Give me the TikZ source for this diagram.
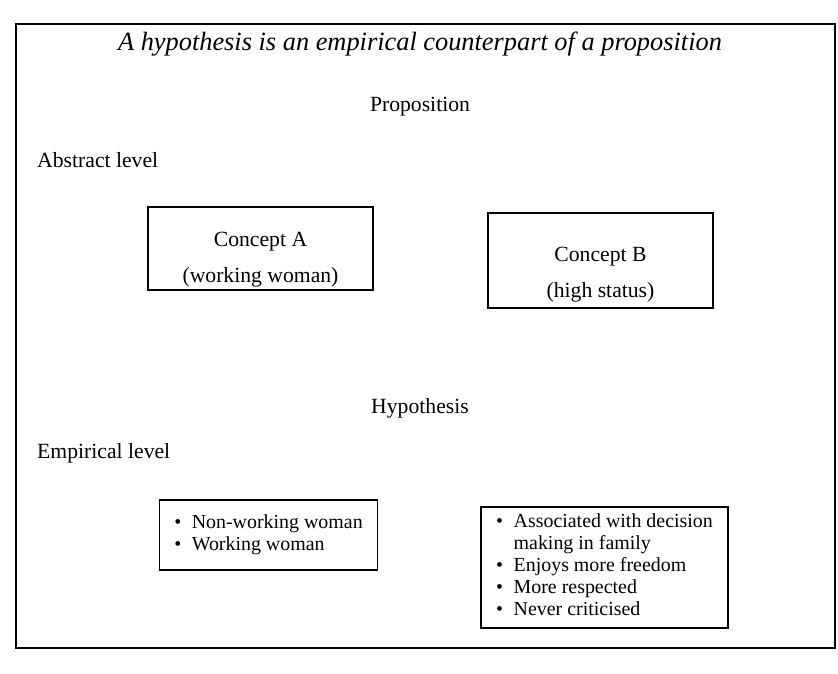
\documentclass[tikz,border=0pt]{standalone}
\usepackage{fontspec}
\setmainfont{Liberation Serif}
\usetikzlibrary{positioning}

\tikzset{
  txt/.style={inner sep=0pt, font=\fontsize{18.5}{21}\selectfont},
  conceptbox/.style={draw, line width=1.3pt, inner sep=0pt},
  listbox/.style={draw, line width=1.3pt, inner xsep=0.45cm, inner ysep=0pt,
    font=\fontsize{17}{18.8}\selectfont},
}
\newcommand{\bul}{\textbullet}

\begin{document}
\begin{tikzpicture}[x=0.03cm,y=-0.03cm]
\useasboundingbox (0,0) rectangle (838,674);

\draw[line width=1.5pt] (16,24) rectangle (835,648);

\node[txt, font=\fontsize{22.5}{26}\selectfont\itshape] (title) at (420,44)
  {A hypothesis is an empirical counterpart of a proposition};

% abstract level
\node[txt] (prop) at (420,107) {Proposition};
\node[txt, anchor=west] (abstract) at (37,160) {Abstract level};

\node[conceptbox, minimum width=6.75cm, minimum height=2.49cm] (conA) at (260.5,248.5) {};
\node[txt] (conAname) at (260.5,242) {Concept A};
\node[txt] (conAex) at (260.5,277) {(working woman)};

\node[conceptbox, minimum width=6.75cm, minimum height=2.85cm] (conB) at (600.5,260.5) {};
\node[txt] (conBname) at (600.5,257) {Concept B};
\node[txt] (conBex) at (600.5,292) {(high status)};

% empirical level
\node[txt] (hyp) at (420,408) {Hypothesis};
\node[txt, anchor=west] (empirical) at (37,453) {Empirical level};

\node[listbox, minimum width=6.39cm, minimum height=2.1cm] (indA) at (268.5,535)
  {\begin{tabular}{@{}l@{\hspace{9pt}}l@{}}
   \bul & Non-working woman\\
   \bul & Working woman
   \end{tabular}};
\node[listbox, minimum width=7.23cm, minimum height=3.63cm] (indB) at (604.5,567.5)
  {\begin{tabular}{@{}l@{\hspace{9pt}}l@{}}
   \bul & Associated with decision\\
        & making in family\\
   \bul & Enjoys more freedom\\
   \bul & More respected\\
   \bul & Never criticised
   \end{tabular}};

\end{tikzpicture}
\end{document}
